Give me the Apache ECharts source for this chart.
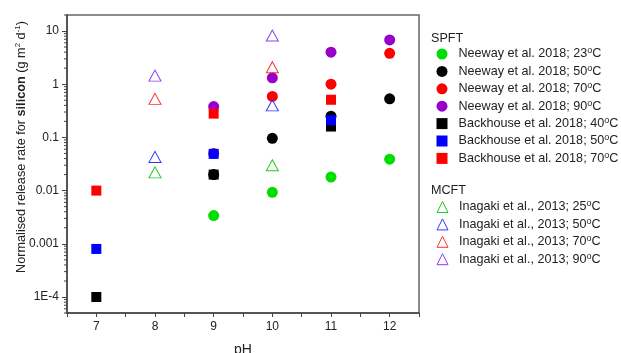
<!DOCTYPE html>
<html>
<head>
<meta charset="utf-8">
<script src="https://cdn.jsdelivr.net/npm/echarts@6/dist/echarts.min.js"></script>
<style>
  html, body { margin: 0; padding: 0; background: #fff; }
  #chart { width: 621px; height: 353px; }
</style>
</head>
<body>
<div id="chart"></div>
<script>
// pH values for each study
const phNeeway = [9, 10, 11, 12];
const phBackhouse = [7, 9, 11];
const phInagaki = [8, 10];

// SPFT - Neeway et al. 2018
const neeway23 = [0.0034, 0.0093, 0.018, 0.039];
const neeway50 = [0.02, 0.096, 0.25, 0.53];
const neeway70 = [0.05, 0.59, 1.0, 3.8];
const neeway90 = [0.38, 1.32, 4.0, 6.8];

// SPFT - Backhouse et al. 2018
const backhouse40 = [0.0001, 0.02, 0.16];
const backhouse50 = [0.0008, 0.049, 0.21];
const backhouse70 = [0.01, 0.28, 0.51];

// MCFT - Inagaki et al., 2013
const inagaki25 = [0.022, 0.030];
const inagaki50 = [0.043, 0.40];
const inagaki70 = [0.53, 2.09];
const inagaki90 = [1.45, 8.2];

const xTicks = [7, 8, 9, 10, 11, 12];
const yTickText = { '0.0001': '1E-4' };

const font = 'Liberation Sans, Arial, sans-serif';

function pts(xs, ys) {
  return xs.map((x, i) => [x, ys[i]]);
}

function filled(name, symbol, size, color, xs, ys) {
  return {
    name: name, type: 'scatter', symbol: symbol, symbolSize: size,
    itemStyle: { color: color, opacity: 1 },
    data: pts(xs, ys)
  };
}

function hollow(name, color, xs, ys) {
  return {
    name: name, type: 'scatter', symbol: 'triangle', symbolSize: [12, 11],
    itemStyle: { color: 'rgba(255,255,255,0)', borderColor: color, borderWidth: 1, opacity: 1 },
    data: pts(xs, ys)
  };
}

// log minor tick positions (2..9 of each decade)
const minorVals = [];
for (let k = -5; k <= 1; k++) {
  for (let m = 2; m <= 9; m++) {
    const v = m * Math.pow(10, k);
    if (v >= 5e-5 && v <= 20) minorVals.push([6.5, v]);
  }
}

const spft = [
  'Neeway et al. 2018; 23°C', 'Neeway et al. 2018; 50°C', 'Neeway et al. 2018; 70°C', 'Neeway et al. 2018; 90°C',
  'Backhouse et al. 2018; 40°C', 'Backhouse et al. 2018; 50°C', 'Backhouse et al. 2018; 70°C'
];
const mcft = [
  'Inagaki et al., 2013; 25°C', 'Inagaki et al., 2013; 50°C', 'Inagaki et al., 2013; 70°C', 'Inagaki et al., 2013; 90°C'
];

const legendText = {
  fontFamily: font, fontSize: 12.6, color: '#222', lineHeight: 15,
  padding: [0, 0, 0, 6],
  rich: { sup: { fontFamily: font, fontSize: 9, color: '#222', verticalAlign: 'top', lineHeight: 15 } }
};
const legendBase = {
  orient: 'vertical', left: 436.5, itemWidth: 11, itemHeight: 11, itemGap: 2.4,
  selectedMode: false, padding: 0,
  itemStyle: { borderWidth: 1 },
  textStyle: legendText,
  formatter: n => n.replace('°C', '{sup|o}C')
};

const chart = echarts.init(document.getElementById('chart'));
chart.setOption({
  animation: false,
  grid: {
    left: 67, right: 202, top: 15, bottom: 40,
    outerBoundsMode: 'none', containLabel: false,
    show: true, borderColor: '#666', borderWidth: 1.5
  },
  legend: [
    Object.assign({}, legendBase, { top: 46.5, data: spft }),
    Object.assign({}, legendBase, { top: 199.5, data: mcft })
  ],
  graphic: [
    { type: 'text', left: 431, top: 32, style: { text: 'SPFT', fontFamily: font, fontSize: 12.6, fill: '#222' } },
    { type: 'text', left: 431, top: 184, style: { text: 'MCFT', fontFamily: font, fontSize: 12.6, fill: '#222' } }
  ],
  xAxis: {
    type: 'value', min: 6.5, max: 12.5, interval: 0.5,
    name: 'pH', nameLocation: 'middle', nameGap: 30, nameMoveOverlap: false,
    nameTextStyle: { fontFamily: font, fontSize: 14, color: '#222' },
    axisLine: { lineStyle: { color: '#444', width: 1.5 } },
    axisTick: { length: 4, lineStyle: { color: '#444' } },
    axisLabel: {
      margin: 8, fontFamily: font, fontSize: 12, color: '#222',
      formatter: v => (xTicks.indexOf(v) >= 0 ? String(v) : '')
    },
    splitLine: { show: false }
  },
  yAxis: {
    type: 'log', logBase: 10, min: 5e-5, max: 20,
    name: 'Normalised release rate for {b|silicon} (g m{sup|2} d{sup|-1})',
    nameLocation: 'middle', nameGap: 38, nameMoveOverlap: false,
    nameTextStyle: {
      fontFamily: font, fontSize: 12.7, color: '#222', lineHeight: 15,
      padding: [0, 0, 0, 34],
      rich: {
        b: { fontFamily: font, fontSize: 12.7, fontWeight: 'bold', color: '#222', lineHeight: 15 },
        sup: { fontFamily: font, fontSize: 8, color: '#222', verticalAlign: 'top', lineHeight: 15 }
      }
    },
    axisLine: { show: true, lineStyle: { color: '#444', width: 1.5 } },
    axisTick: { length: 5, lineStyle: { color: '#444' } },
    axisLabel: {
      margin: 8, fontFamily: font, fontSize: 12, color: '#222',
      showMinLabel: false, showMaxLabel: false,
      formatter: v => {
        const key = String(+v.toPrecision(6));
        return yTickText[key] || key;
      }
    },
    splitLine: { show: false }
  },
  series: [
    filled(spft[0], 'circle', 11, '#00dd00', phNeeway, neeway23),
    filled(spft[1], 'circle', 11, '#000000', phNeeway, neeway50),
    filled(spft[2], 'circle', 11, '#ff0000', phNeeway, neeway70),
    filled(spft[3], 'circle', 11, '#9900cc', phNeeway, neeway90),
    filled(spft[4], 'rect', 10, '#000000', phBackhouse, backhouse40),
    filled(spft[5], 'rect', 10, '#0000ff', phBackhouse, backhouse50),
    filled(spft[6], 'rect', 10, '#ff0000', phBackhouse, backhouse70),
    hollow(mcft[0], '#22cc22', phInagaki, inagaki25),
    hollow(mcft[1], '#3333ff', phInagaki, inagaki50),
    hollow(mcft[2], '#ff3333', phInagaki, inagaki70),
    hollow(mcft[3], '#8e3cff', phInagaki, inagaki90),
    {
      type: 'custom', silent: true, clip: false, data: minorVals,
      renderItem: (params, api) => {
        const p = api.coord([api.value(0), api.value(1)]);
        return {
          type: 'line',
          shape: { x1: p[0] - 3, y1: p[1], x2: p[0], y2: p[1] },
          style: { stroke: '#444', lineWidth: 1 }
        };
      }
    }
  ]
});
</script>
</body>
</html>
